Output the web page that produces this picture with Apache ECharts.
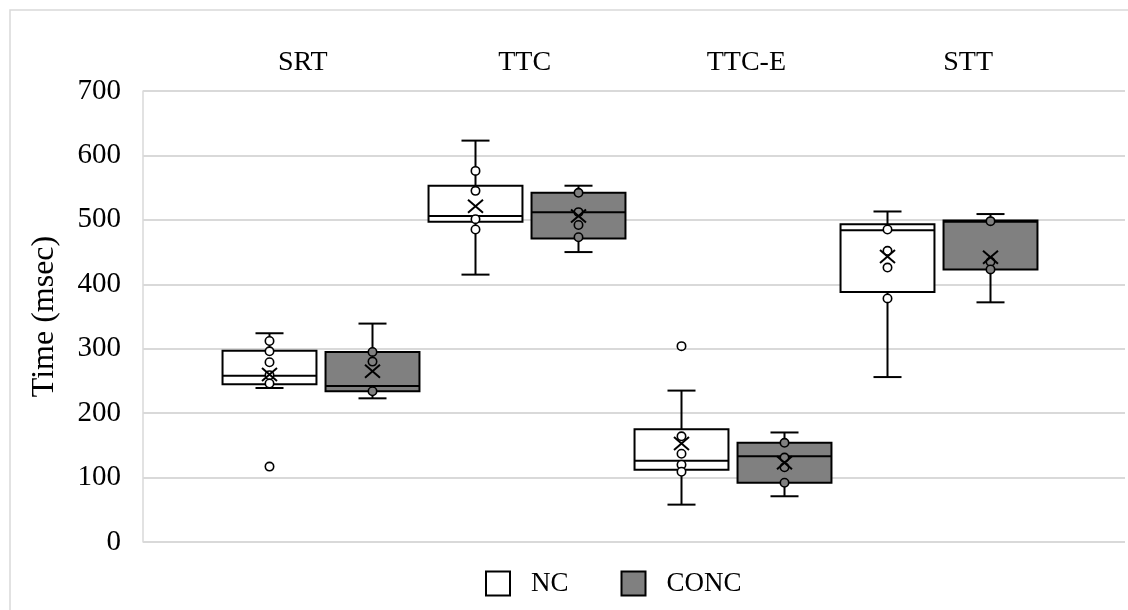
<!DOCTYPE html>
<html>
<head>
<meta charset="utf-8">
<script src="https://cdn.jsdelivr.net/npm/echarts@6/dist/echarts.min.js"></script>
<style>
  html, body { margin: 0; padding: 0; background: #fff; }
  #chart { width: 1128px; height: 610px; }
</style>
</head>
<body>
<div id="chart"></div>
<script>
// Measures shown along the top of the plot
const categories = ['SRT', 'TTC', 'TTC-E', 'STT'];
const yTicks = [0, 100, 200, 300, 400, 500, 600, 700];

// NC condition: five-number summary, mean, inner points, outliers
const ncMin    = [239, 415,  58, 256];
const ncQ1     = [245, 497, 112, 388];
const ncMedian = [258, 506, 126, 484];
const ncQ3     = [297, 553, 175, 493];
const ncMax    = [324, 623, 235, 513];
const ncMean   = [260, 521, 153, 443];
const ncPoints = [[312, 296, 279, 259, 246], [576, 545, 501, 485], [164, 137, 120, 109], [485, 452, 426, 378]];
const ncOutliers = [[117], [], [304], []];

// CONC condition
const concMin    = [223, 450,  71, 372];
const concQ1     = [234, 471,  92, 423];
const concMedian = [242, 512, 133, 497];
const concQ3     = [295, 542, 154, 499];
const concMax    = [339, 553, 170, 509];
const concMean   = [265, 506, 123, 442];
const concPoints = [[295, 280, 234], [542, 512, 492, 473], [154, 131, 116, 92], [498, 435, 423]];
const concOutliers = [[], [], [], []];

const FONT = '"Liberation Serif", "Times New Roman", serif';
const GRID_TOP = 91, GRID_BOTTOM = 68;

function buildData(mins, q1s, meds, q3s, maxs, means) {
  return categories.map((c, i) => [i, mins[i], q1s[i], meds[i], q3s[i], maxs[i], means[i]]);
}

function makeRender(side, fill, points, outliers) {
  return function (params, api) {
    const i = api.value(0);
    const band = api.size([1, 0])[0];
    const cx = api.coord([i, 0])[0] + side * band * 0.25;
    const halfBox = band * 0.228;
    const halfCap = band * 0.068;
    const y = v => api.coord([i, v])[1];
    const yMin = y(api.value(1)), yQ1 = y(api.value(2)), yMed = y(api.value(3));
    const yQ3 = y(api.value(4)), yMax = y(api.value(5)), yMean = y(api.value(6));
    const stroke = { stroke: '#000', lineWidth: 2, fill: null };
    const children = [];
    // whiskers and caps
    children.push({ type: 'line', shape: { x1: cx, y1: yQ3, x2: cx, y2: yMax }, style: stroke });
    children.push({ type: 'line', shape: { x1: cx, y1: yQ1, x2: cx, y2: yMin }, style: stroke });
    children.push({ type: 'line', shape: { x1: cx - halfCap, y1: yMax, x2: cx + halfCap, y2: yMax }, style: stroke });
    children.push({ type: 'line', shape: { x1: cx - halfCap, y1: yMin, x2: cx + halfCap, y2: yMin }, style: stroke });
    // box
    children.push({ type: 'rect', shape: { x: cx - halfBox, y: yQ3, width: halfBox * 2, height: yQ1 - yQ3 },
      style: { fill: fill, stroke: '#000', lineWidth: 2 } });
    // median
    children.push({ type: 'line', shape: { x1: cx - halfBox, y1: yMed, x2: cx + halfBox, y2: yMed }, style: stroke });
    // inner points
    points[i].forEach(v => {
      children.push({ type: 'circle', shape: { cx: cx, cy: y(v), r: 4.2 },
        style: { fill: fill, stroke: '#000', lineWidth: 1.6 } });
    });
    // outliers
    outliers[i].forEach(v => {
      children.push({ type: 'circle', shape: { cx: cx, cy: y(v), r: 4.2 },
        style: { fill: '#fff', stroke: '#000', lineWidth: 1.6 } });
    });
    // mean marker
    const mx = 7.5, my = 6.5;
    children.push({ type: 'line', shape: { x1: cx - mx, y1: yMean - my, x2: cx + mx, y2: yMean + my }, style: stroke });
    children.push({ type: 'line', shape: { x1: cx - mx, y1: yMean + my, x2: cx + mx, y2: yMean - my }, style: stroke });
    return { type: 'group', children: children };
  };
}

const chart = echarts.init(document.getElementById('chart'), null, { renderer: 'canvas' });

chart.setOption({
  animation: false,
  backgroundColor: '#fff',
  textStyle: { fontFamily: FONT },
  graphic: [{
    type: 'rect', silent: true, z: -10,
    shape: { x: 10, y: 10, width: 1300, height: 800 },
    style: { fill: null, stroke: '#d9d9d9', lineWidth: 1.5 }
  }],
  legend: {
    left: 480, top: 565,
    itemWidth: 24, itemHeight: 24, itemGap: 52,
    textStyle: { fontFamily: FONT, fontSize: 27, color: '#000', padding: [0, 0, 0, 16] },
    data: [
      { name: 'NC', icon: 'rect', itemStyle: { color: '#fff', borderColor: '#000', borderWidth: 2 } },
      { name: 'CONC', icon: 'rect', itemStyle: { color: '#808080', borderColor: '#000', borderWidth: 2 } }
    ]
  },
  grid: [
    { left: 143, right: 3, top: GRID_TOP, bottom: GRID_BOTTOM },
    { left: 218, right: 86, top: GRID_TOP, bottom: GRID_BOTTOM },
    { left: 192, right: 49, top: GRID_TOP, bottom: GRID_BOTTOM }
  ],
  xAxis: [
    { gridIndex: 0, type: 'value', min: 0, max: 1, show: false },
    { gridIndex: 1, type: 'category', data: categories, show: false },
    { gridIndex: 2, type: 'category', data: categories, position: 'top',
      axisLine: { show: false }, axisTick: { show: false },
      axisLabel: { fontFamily: FONT, fontSize: 28, color: '#000', margin: 14 } }
  ],
  yAxis: [
    { gridIndex: 0, type: 'value', min: yTicks[0], max: yTicks[yTicks.length - 1], interval: 100,
      name: 'Time (msec)', nameLocation: 'middle', nameGap: 82,
      nameTextStyle: { fontFamily: FONT, fontSize: 32, color: '#000' },
      axisLine: { show: true, lineStyle: { color: '#d9d9d9', width: 1.5 } },
      axisTick: { show: false },
      axisLabel: { fontFamily: FONT, fontSize: 29, color: '#000', margin: 22 },
      splitLine: { show: true, lineStyle: { color: '#d9d9d9', width: 2 } } },
    { gridIndex: 1, type: 'value', min: yTicks[0], max: yTicks[yTicks.length - 1], show: false },
    { gridIndex: 2, type: 'value', min: 0, max: 1, show: false }
  ],
  series: [
    { name: 'NC', type: 'custom', xAxisIndex: 1, yAxisIndex: 1,
      itemStyle: { color: '#fff', borderColor: '#000', borderWidth: 2 },
      encode: { x: 0, y: [1, 2, 3, 4, 5, 6] },
      renderItem: makeRender(-1, '#fff', ncPoints, ncOutliers),
      data: buildData(ncMin, ncQ1, ncMedian, ncQ3, ncMax, ncMean) },
    { name: 'CONC', type: 'custom', xAxisIndex: 1, yAxisIndex: 1,
      itemStyle: { color: '#808080', borderColor: '#000', borderWidth: 2 },
      encode: { x: 0, y: [1, 2, 3, 4, 5, 6] },
      renderItem: makeRender(1, '#808080', concPoints, concOutliers),
      data: buildData(concMin, concQ1, concMedian, concQ3, concMax, concMean) }
  ]
});
</script>
</body>
</html>
